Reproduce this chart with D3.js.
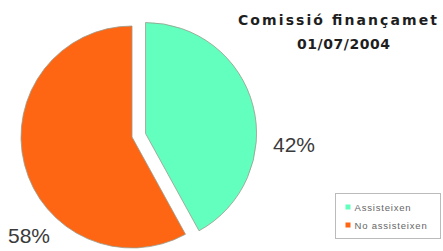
<!DOCTYPE html>
<html>
<head>
<script src="https://cdn.jsdelivr.net/npm/d3@7"></script>
<style>
    body {margin: 0; background: #fff;}
    text {font-family: "Liberation Sans", Arial, sans-serif;}
    .title {font-family: "DejaVu Sans", sans-serif;}
</style>
</head>
<body>
<div id="container"></div>
<script type="text/javascript">
    const categories = ['Assisteixen', 'No assisteixen'];
    const values = [42, 58];
    const labels = ['42%', '58%'];
    const titleLines = ['Comissió finançamet', '01/07/2004'];

    const w = 443;
    const h = 251;
    const colors = d3.scaleOrdinal().domain(categories).range(['#62ffbf', '#ff6614']);

    const svg = d3.select('#container')
        .append('svg')
        .attr('width', w)
        .attr('height', h);

    const cx = 132, cy = 137, r = 111;
    const explode = [14, 0];

    const pie = d3.pie().sort(null).value(d => d)(values);
    const arc = d3.arc().innerRadius(0).outerRadius(r);

    const g = svg.append('g').attr('transform', `translate(${cx}, ${cy})`);

    g.selectAll('path')
        .data(pie)
        .enter()
        .append('path')
        .attr('transform', (d, i) => {
            const a = (d.startAngle + d.endAngle) / 2;
            return `translate(${Math.sin(a) * explode[i]}, ${-Math.cos(a) * explode[i]})`;
        })
        .attr('d', arc)
        .attr('fill', (d, i) => colors(categories[i]))
        .attr('stroke', '#9a9a8a')
        .attr('stroke-width', 0.8);

    // percent labels
    const labelPos = [[273, 152], [8, 243]];
    svg.selectAll('text.pct')
        .data(labels)
        .enter()
        .append('text')
        .attr('class', 'pct')
        .attr('x', (d, i) => labelPos[i][0])
        .attr('y', (d, i) => labelPos[i][1])
        .attr('font-size', 21)
        .attr('fill', '#3a3a3a')
        .text(d => d);

    // title (wide bold lettering)
    svg.append('text')
        .attr('class', 'title')
        .attr('x', 238).attr('y', 25)
        .attr('font-size', 14).attr('font-weight', 'bold')
        .attr('textLength', 199).attr('lengthAdjust', 'spacing')
        .attr('fill', '#1e1e1e')
        .text(titleLines[0]);
    svg.append('text')
        .attr('class', 'title')
        .attr('x', 297).attr('y', 49)
        .attr('font-size', 14).attr('font-weight', 'bold')
        .attr('textLength', 93).attr('lengthAdjust', 'spacing')
        .attr('fill', '#1e1e1e')
        .text(titleLines[1]);

    // legend
    const lg = svg.append('g').attr('transform', 'translate(335.5, 193.5)');
    lg.append('rect')
        .attr('width', 105).attr('height', 45)
        .attr('fill', '#fff')
        .attr('stroke', '#bbb')
        .attr('stroke-width', 1);
    const item = lg.selectAll('g.item')
        .data(categories)
        .enter()
        .append('g')
        .attr('transform', (d, i) => `translate(10, ${14 + i * 18})`);
    item.append('rect')
        .attr('x', 0).attr('y', -3)
        .attr('width', 5).attr('height', 5)
        .attr('fill', d => colors(d));
    item.append('text')
        .attr('x', 9).attr('y', 3)
        .attr('font-size', 9.5)
        .attr('letter-spacing', 0.8)
        .attr('fill', '#666')
        .text(d => d);
</script>
</body>
</html>
